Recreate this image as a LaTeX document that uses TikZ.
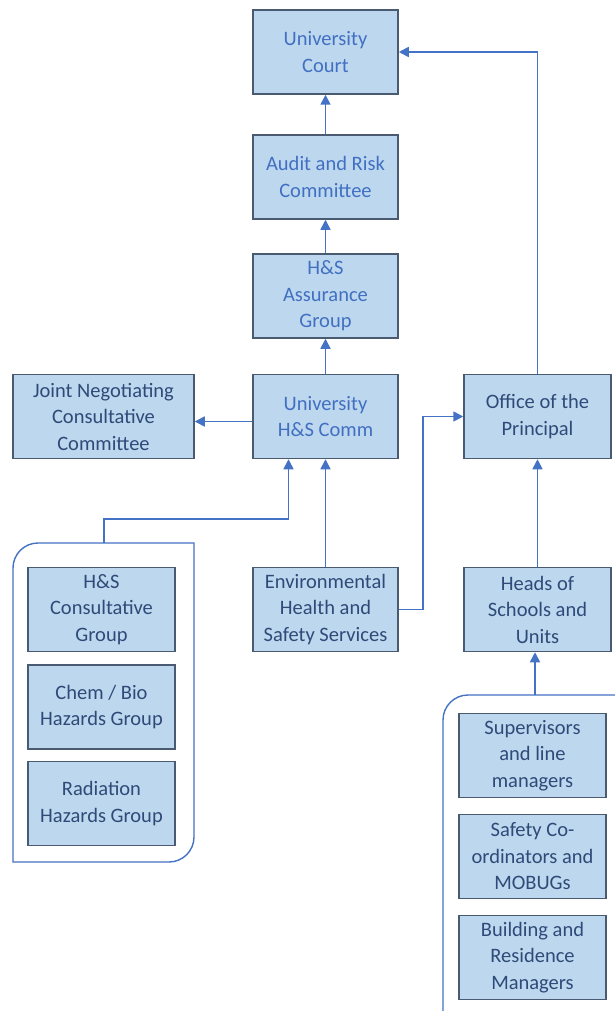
\documentclass[tikz,border=0pt]{standalone}
\usepackage{fontspec}
\setmainfont{Carlito}
\usetikzlibrary{arrows.meta,calc}

\definecolor{boxfill}{HTML}{BDD7EE}
\definecolor{boxline}{HTML}{4A5A70}
\definecolor{linkblue}{HTML}{4472C4}
\definecolor{textblue}{HTML}{4170C2}
\definecolor{textdark}{HTML}{2E4A78}

\tikzset{
	unit/.style={draw=boxline, line width=1.5pt, fill=boxfill, align=center,
		minimum width=145pt, minimum height=84pt, inner sep=2pt,
		font=\fontsize{20.5}{26.5}\selectfont, text=textdark},
	upper/.style={unit, text=textblue},
	link/.style={draw=linkblue, line width=1.7pt, -{Triangle[length=10pt,width=10pt]}},
	group/.style={draw=linkblue, line width=1.4pt}
}

\begin{document}
\begin{tikzpicture}[x=1pt,y=1pt]
	\useasboundingbox (0,0) rectangle (614,-1011);
	
	\draw[group] (13,-862) -- (13,-568) arc (180:90:25) -- (194,-543) -- (194,-837) arc (0:-90:25) -- cycle;
	\draw[group] (443,-1015) -- (443,-720) arc (180:90:25) -- (618,-695);
	\coordinate (leftgrp) at (104,-543);
	\coordinate (rightgrp) at (535,-695);
	
	\node[upper] (court) at (325.5,-52) {University\\Court};
	\node[upper] (audit) at (325.5,-177) {Audit and Risk\\Committee};
	\node[upper] (assure) at (325.5,-296) {H\&S\\Assurance\\Group};
	\node[upper] (hscomm) at (325.5,-416.5) {University\\H\&S Comm};
	\node[unit, minimum width=181pt] (jncc) at (103.5,-416.5) {Joint Negotiating\\Consultative\\Committee};
	\node[unit, minimum width=147pt] (principal) at (537.5,-416.5) {Office of the\\Principal};
	\node[unit] (ehss) at (325.5,-609.5) {Environmental\\Health and\\Safety Services};
	\node[unit, minimum width=147pt] (heads) at (537.5,-609.5) {Heads of\\Schools and\\Units};
	
	\node[unit, minimum width=147pt] (consult) at (101.5,-609.5) {H\&S\\Consultative\\Group};
	\node[unit, minimum width=147pt] (chembio) at (101.5,-707) {Chem / Bio\\Hazards Group};
	\node[unit, minimum width=147pt] (radiation) at (101.5,-803.5) {Radiation\\Hazards Group};
	
	\node[unit, minimum width=147pt] (supervisors) at (532.5,-755.5) {Supervisors\\and line\\managers};
	\node[unit, minimum width=147pt] (safetyco) at (532.5,-856.5) {Safety Co-\\ordinators and\\MOBUGs};
	\node[unit, minimum width=147pt] (building) at (532.5,-957.5) {Building and\\Residence\\Managers};
	
	\draw[link] (audit) -- (court);
	\draw[link] (assure) -- (audit);
	\draw[link] (hscomm) -- (assure);
	\draw[link] ([yshift=-5pt]hscomm.west) -- ([yshift=-5pt]jncc.east);
	\draw[link] (ehss) -- (hscomm);
	\draw[link] (leftgrp) -- ++(0,24) -| ([xshift=-37pt]hscomm.south);
	\draw[link] (ehss.east) -- ++(24,0) |- (principal.west);
	\draw[link] (principal.north) |- (court.east);
	\draw[link] (heads) -- (principal);
	\draw[link] (rightgrp) -- (rightgrp |- heads.south);
\end{tikzpicture}
\end{document}
